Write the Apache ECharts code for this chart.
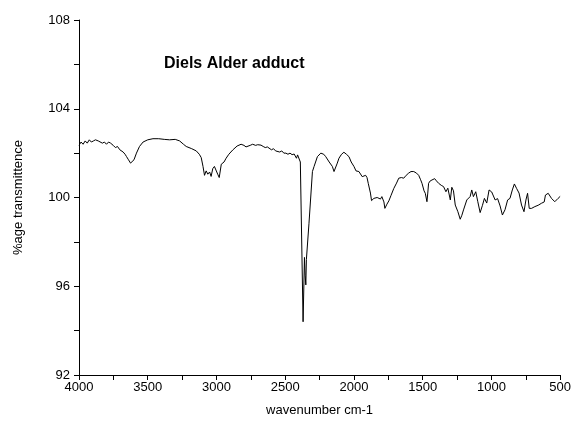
<!DOCTYPE html>
<html>
<head>
<meta charset="utf-8">
<script src="https://cdn.jsdelivr.net/npm/echarts@6/dist/echarts.min.js"></script>
<style>
  html, body { margin: 0; padding: 0; background: #fff; }
  #chart { width: 574px; height: 424px; }
</style>
</head>
<body>
<div id="chart"></div>
<script>
// spectrum
var wavenumbers = [
  4000, 3985, 3970, 3955, 3940, 3925, 3910, 3895, 3880, 3860, 3848, 3830, 3815, 3800, 3785, 3770,
  3751, 3735, 3720, 3703, 3690, 3679, 3665, 3655, 3640, 3625, 3612, 3600, 3582, 3560, 3534, 3500,
  3462, 3420, 3380, 3341, 3300, 3268, 3240, 3220, 3180, 3147, 3125, 3111, 3098, 3087, 3075, 3063,
  3050, 3039, 3027, 3015, 3003, 2991, 2980, 2973, 2965, 2959, 2945, 2930, 2910, 2882, 2850, 2821,
  2800, 2785, 2773, 2755, 2737, 2715, 2700, 2676, 2660, 2645, 2630, 2616, 2600, 2585, 2570, 2556,
  2540, 2525, 2510, 2495, 2480, 2465, 2450, 2435, 2425, 2418, 2410, 2399, 2390, 2370, 2360, 2355,
  2350, 2346, 2327, 2302, 2290, 2266, 2241, 2220, 2205, 2180, 2157, 2145, 2121, 2109, 2090, 2073,
  2055, 2036, 2020, 2000, 1985, 1976, 1964, 1952, 1940, 1927, 1915, 1905, 1896, 1880, 1872, 1862,
  1855, 1843, 1831, 1820, 1807, 1797, 1790, 1782, 1775, 1760, 1746, 1730, 1710, 1690, 1674, 1655,
  1638, 1620, 1602, 1585, 1565, 1545, 1529, 1515, 1505, 1490, 1481, 1469, 1463, 1457, 1445, 1433,
  1413, 1400, 1384, 1365, 1348, 1331, 1317, 1299, 1288, 1276, 1263, 1244, 1227, 1215, 1203, 1179,
  1155, 1143, 1131, 1114, 1099, 1082, 1065, 1051, 1034, 1017, 998, 973, 955, 937, 920, 901,
  882, 865, 848, 833, 817, 799, 781, 763, 749, 737, 725, 708, 684, 660, 636, 616,
  607, 587, 563, 539, 515, 500
];
var transmittance = [
  102.35, 102.5, 102.4, 102.55, 102.45, 102.6, 102.5, 102.55, 102.6, 102.55, 102.5, 102.45, 102.5, 102.4, 102.5, 102.45,
  102.35, 102.25, 102.3, 102.15, 102.2, 102.05, 101.95, 101.85, 101.7, 101.55, 101.55, 101.7, 102.0, 102.3, 102.5, 102.6,
  102.65, 102.65, 102.62, 102.6, 102.62, 102.55, 102.4, 102.3, 102.2, 102.1, 101.95, 101.8, 101.4, 101.0, 101.2, 101.05,
  101.15, 100.95, 101.3, 101.4, 101.35, 101.05, 100.9, 100.85, 101.5, 101.5, 101.6, 101.77, 101.95, 102.14, 102.32, 102.4,
  102.35, 102.28, 102.25, 102.35, 102.4, 102.35, 102.38, 102.36, 102.3, 102.25, 102.28, 102.2, 102.15, 102.2, 102.1, 102.14,
  102.05, 102.1, 102.0, 102.0, 101.95, 102.0, 101.93, 101.96, 101.9, 101.77, 101.92, 101.9, 101.6, 94.4, 97.3, 96.5,
  96.06, 97.2, 98.84, 101.17, 101.4, 101.84, 102.0, 101.95, 101.84, 101.6, 101.4, 101.17, 101.55, 101.77, 101.95, 102.04,
  101.95, 101.84, 101.6, 101.4, 101.2, 101.17, 101.17, 101.1, 100.94, 101.0, 101.0, 100.9, 100.64, 100.2, 99.86, 99.95,
  99.96, 100.04, 100.0, 99.95, 99.93, 100.04, 100.04, 99.8, 99.51, 99.7, 99.85, 100.1, 100.41, 100.65, 100.87, 100.9,
  100.87, 101.0, 101.1, 101.17, 101.17, 101.1, 101.0, 100.8, 100.64, 100.3, 100.19, 99.81, 100.2, 100.64, 100.75, 100.82,
  100.85, 100.75, 100.64, 100.55, 100.49, 100.26, 100.42, 99.89, 100.46, 100.3, 99.66, 99.36, 99.02, 99.2, 99.44, 99.89,
  100.04, 100.34, 100.04, 100.26, 99.81, 99.32, 99.65, 99.96, 99.75, 100.34, 100.25, 99.89, 99.95, 99.62, 99.21, 99.45,
  99.89, 99.96, 100.34, 100.61, 100.41, 100.2, 99.66, 99.36, 99.89, 100.19, 99.51, 99.51, 99.59, 99.65, 99.74, 99.8,
  100.11, 100.19, 99.96, 99.81, 99.96, 100.05
];

var chartTitle = 'Diels Alder adduct';
var xName = 'wavenumber cm-1';
var yName = '%age transmittence';

var points = wavenumbers.map(function (w, i) { return [w, transmittance[i]]; });

var font = '"Liberation Sans", Arial, sans-serif';

var chart = echarts.init(document.getElementById('chart'), null, { renderer: 'canvas' });
chart.setOption({
  backgroundColor: '#fff',
  animation: false,
  title: {
    text: chartTitle,
    left: 164,
    top: 56,
    padding: 0,
    textStyle: { fontFamily: font, fontSize: 16, fontWeight: 'bold', color: '#000' }
  },
  grid: { left: 79, right: 12, top: 20, bottom: 49, containLabel: false },
  xAxis: {
    type: 'value',
    inverse: true,
    min: 500,
    max: 4000,
    interval: 500,
    name: xName,
    nameLocation: 'middle',
    nameGap: 29,
    nameTextStyle: { fontFamily: font, fontSize: 13, color: '#000' },
    axisLine: { show: true, onZero: false, lineStyle: { color: '#000', width: 1 } },
    axisTick: { show: true, inside: false, length: 5, lineStyle: { color: '#000' } },
    minorTick: { show: true, splitNumber: 2, length: 5, lineStyle: { color: '#000' } },
    axisLabel: {
      fontFamily: font, fontSize: 13, color: '#000', margin: 6,
      formatter: function (v) { return String(v); }
    },
    splitLine: { show: false }
  },
  yAxis: {
    type: 'value',
    min: 92,
    max: 108,
    interval: 4,
    name: yName,
    nameLocation: 'middle',
    nameGap: 54,
    nameTextStyle: { fontFamily: font, fontSize: 13, color: '#000' },
    axisLine: { show: true, onZero: false, lineStyle: { color: '#000', width: 1 } },
    axisTick: { show: true, inside: false, length: 5, lineStyle: { color: '#000' } },
    minorTick: { show: true, splitNumber: 2, length: 5, lineStyle: { color: '#000' } },
    axisLabel: {
      fontFamily: font, fontSize: 13, color: '#000', margin: 9,
      formatter: function (v) { return String(v); }
    },
    splitLine: { show: false }
  },
  series: [{
    type: 'line',
    data: points,
    showSymbol: false,
    symbol: 'none',
    lineStyle: { color: '#000', width: 1 },
    silent: true
  }]
});
</script>
</body>
</html>
